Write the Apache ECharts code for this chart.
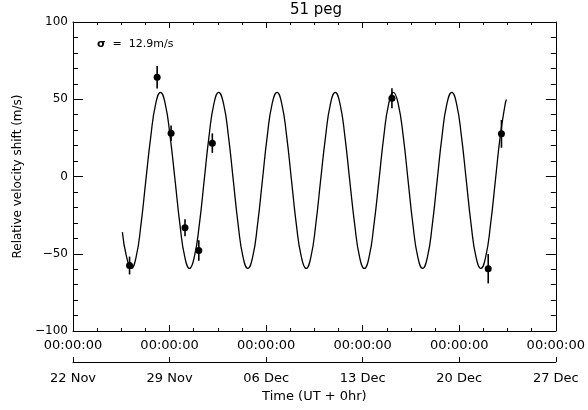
<!DOCTYPE html>
<html>
<head>
<meta charset="utf-8">
<script src="https://cdn.jsdelivr.net/npm/echarts@6/dist/echarts.min.js"></script>
<style>
html,body{margin:0;padding:0;background:#fff;}
#c{width:588px;height:410px;}
</style>
</head>
<body>
<div id="c"></div>
<script>
// ---- data (days since 22 Nov 00:00 UT, velocity in m/s) ----
const curveDays = [3.58,3.88,4.23,4.58,4.93,5.28,5.64,5.99,6.34,6.69,7.04,7.40,7.75,8.10,8.45,8.80,9.16,9.51,9.86,10.21,
  10.56,10.92,11.27,11.62,11.97,12.32,12.67,13.03,13.38,13.73,14.08,14.43,14.79,15.14,15.49,15.84,16.19,16.55,16.90,17.25,
  17.60,17.95,18.31,18.66,19.01,19.36,19.71,20.06,20.42,20.77,21.12,21.47,21.82,22.18,22.53,22.88,23.23,23.58,23.94,24.29,
  24.64,24.99,25.34,25.70,26.05,26.40,26.75,27.10,27.46,27.81,28.16,28.51,28.86,29.21,29.57,29.92,30.27,30.62,30.97,31.33,31.42];
const curveVel = [-36.0,-51.9,-59.5,-51.9,-31.0,-2.5,26.0,46.9,54.5,46.9,26.0,-2.5,-31.0,-51.9,-59.5,-51.9,-31.0,-2.5,26.0,46.9,
  54.5,46.9,26.0,-2.5,-31.0,-51.9,-59.5,-51.9,-31.0,-2.5,26.0,46.9,54.5,46.9,26.0,-2.5,-31.0,-51.9,-59.5,-51.9,
  -31.0,-2.5,26.0,46.9,54.5,46.9,26.0,-2.5,-31.0,-51.9,-59.5,-51.9,-31.0,-2.5,26.0,46.9,54.5,46.9,26.0,-2.5,
  -31.0,-51.9,-59.5,-51.9,-31.0,-2.5,26.0,46.9,54.5,46.9,26.0,-2.5,-31.0,-51.9,-59.5,-51.9,-31.0,-2.5,26.0,46.9,49.8];
const pointDays = [4.10, 6.10, 7.11, 8.12, 9.12, 10.10, 23.12, 30.10, 31.06];
const pointVel  = [-57.6, 64.3, 28.0, -33.2, -47.9, 21.6, 50.7, -59.7, 27.6];
const pointErr  = [5.8, 7.3, 5.0, 5.5, 6.7, 6.3, 6.5, 9.5, 9.0];
const timeTickLabels = ['00:00:00','00:00:00','00:00:00','00:00:00','00:00:00','00:00:00'];
const dateTickLabels = ['22 Nov','29 Nov','06 Dec','13 Dec','20 Dec','27 Dec'];
const yTickValues = [-100, -50, 0, 50, 100];
const yTickLabels = ['\u2212100', '\u221250', '0', '50', '100'];

const FONT = 'DejaVu Sans';
const BLACK = '#000';
const chart = echarts.init(document.getElementById('c'), null, {renderer: 'canvas'});

const baseX = {
  type: 'value', gridIndex: 0, min: 0, max: 35, interval: 7,
  axisLine: {show: true, onZero: false, lineStyle: {color: BLACK, width: 1}},
  axisTick: {show: true, inside: true, length: 6, lineStyle: {color: BLACK}},
  minorTick: {show: true, splitNumber: 4, length: 3, lineStyle: {color: BLACK}},
  splitLine: {show: false}, minorSplitLine: {show: false}
};
const baseY = {
  type: 'value', gridIndex: 0, min: -100, max: 100, interval: 50,
  axisLine: {show: true, onZero: false, lineStyle: {color: BLACK, width: 1}},
  axisTick: {show: true, inside: true, length: 10, lineStyle: {color: BLACK}},
  minorTick: {show: true, splitNumber: 5, length: 5, lineStyle: {color: BLACK}},
  splitLine: {show: false}, minorSplitLine: {show: false}
};

const option = {
  animation: false,
  backgroundColor: '#fff',
  grid: [{left: 73, top: 22, width: 486, height: 309}],
  xAxis: [
    Object.assign({}, baseX, {
      position: 'bottom',
      axisLabel: {show: true, margin: 8, color: BLACK, fontFamily: FONT, fontSize: 13,
        showMinLabel: true, showMaxLabel: true, hideOverlap: false,
        formatter: v => timeTickLabels[Math.round(v / 7)]}
    }),
    Object.assign({}, baseX, {position: 'top', axisLabel: {show: false}}),
    {
      type: 'value', gridIndex: 0, min: 0, max: 35, interval: 7, position: 'bottom', offset: 31,
      axisLine: {show: true, onZero: false, lineStyle: {color: BLACK, width: 1}},
      axisTick: {show: true, inside: true, length: 5, lineStyle: {color: BLACK}},
      minorTick: {show: false}, splitLine: {show: false},
      axisLabel: {show: true, margin: 10, color: BLACK, fontFamily: FONT, fontSize: 13,
        showMinLabel: true, showMaxLabel: true, hideOverlap: false,
        formatter: v => dateTickLabels[Math.round(v / 7)]},
      name: 'Time (UT + 0hr)', nameLocation: 'middle', nameGap: 25,
      nameTextStyle: {color: BLACK, fontFamily: FONT, fontSize: 13}
    }
  ],
  yAxis: [
    Object.assign({}, baseY, {
      position: 'left',
      axisLabel: {show: true, margin: 5, color: BLACK, fontFamily: FONT, fontSize: 12,
        formatter: v => yTickLabels[yTickValues.indexOf(Math.round(v))]},
      name: 'Relative velocity shift (m/s)', nameLocation: 'middle', nameGap: 49,
      nameTextStyle: {color: BLACK, fontFamily: FONT, fontSize: 12}
    }),
    Object.assign({}, baseY, {position: 'right', axisLabel: {show: false}})
  ],
  graphic: [
    {type: 'text', x: 316, y: 10, style: {text: '51 peg', fill: BLACK, font: '15px "DejaVu Sans"', textAlign: 'center', textVerticalAlign: 'middle'}},
    {type: 'text', x: 97, y: 44.5, style: {text: '{b|\u03c3}  =  12.9m/s', fill: BLACK, font: '11px "DejaVu Sans"', textVerticalAlign: 'middle',
      rich: {b: {fontWeight: 'bold', fontSize: 11, fontFamily: FONT, fill: BLACK}}}}
  ],
  series: [
    {
      type: 'line', xAxisIndex: 0, yAxisIndex: 0, showSymbol: false, smooth: 0.5,
      data: curveDays.map((d, i) => [d, curveVel[i]]),
      lineStyle: {color: BLACK, width: 1.3}, silent: true
    },
    {
      type: 'custom', xAxisIndex: 0, yAxisIndex: 0,
      data: pointDays.map((d, i) => [d, pointVel[i], pointErr[i]]),
      encode: {x: 0, y: 1},
      renderItem: (params, api) => {
        const x = api.value(0), y = api.value(1), e = api.value(2);
        const a = api.coord([x, y + e]), b = api.coord([x, y - e]);
        return {type: 'line', shape: {x1: a[0], y1: a[1], x2: b[0], y2: b[1]}, style: {stroke: BLACK, lineWidth: 1.6}};
      },
      silent: true
    },
    {
      type: 'scatter', xAxisIndex: 0, yAxisIndex: 0, symbol: 'circle', symbolSize: 7,
      data: pointDays.map((d, i) => [d, pointVel[i]]),
      itemStyle: {color: BLACK, opacity: 1}, silent: true
    }
  ]
};
chart.setOption(option);
</script>
</body>
</html>
